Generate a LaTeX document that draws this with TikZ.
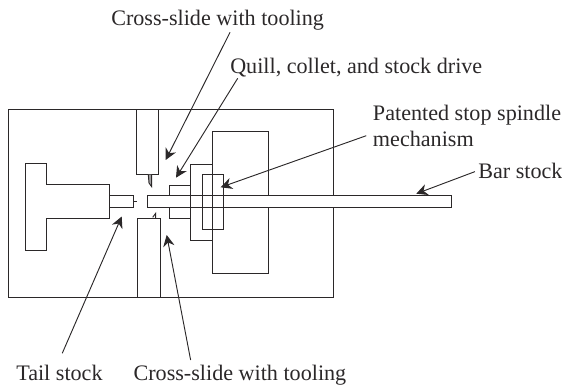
\documentclass[tikz,border=0pt]{standalone}
\usepackage{fontspec}
\setmainfont{Liberation Serif}
\usetikzlibrary{arrows.meta}
\definecolor{inkdark}{HTML}{2B2829}
\begin{document}
\begin{tikzpicture}[x=0.75pt,y=-0.75pt,
        part/.style={draw=inkdark,line width=0.7pt},
        bar/.style={part,fill=white},
        lbl/.style={anchor=base west,inner sep=0pt,text=inkdark,font=\fontsize{16.6}{20}\selectfont},
        callout/.style={draw=inkdark,line width=0.7pt,-{Stealth[length=8.5pt,width=8.5pt]}}]
        \useasboundingbox (0,0) rectangle (562,385);
        % Machine frame and large housing
        \draw[part] (8,109) rectangle (333,297);
        \draw[part] (212.7,131.3) rectangle (268,273.3);
        % Upper cross-slide
        \draw[part] (136,109) rectangle (158.3,174.7);
        \draw[part,fill=inkdark!45] (148.3,174.7) -- (149,183) -- (151.7,186.7) -- (151.7,174.7);
        % Lower cross-slide
        \draw[part] (137,218.3) rectangle (160.3,297);
        \draw[part] (152.7,217.3) -- (155.7,213.3) -- (155.7,218.3);
        % Tail stock
        \draw[part] (25.3,163) -- (46.7,163) -- (46.7,184.7) -- (109.7,184.7) -- (109.7,218.3)
            -- (46.7,218.3) -- (46.7,250) -- (25.3,250) -- cycle;
        \draw[part] (109.7,195.7) rectangle (133,207.3);
        \draw[part] (133,201.7) -- (137,201.7);
        % Quill, bar and stop spindle
        \draw[part] (169.3,185) rectangle (190.3,218.3);
        \draw[bar] (147.3,195.7) rectangle (451.3,207.3);
        \draw[part] (190.3,164) rectangle (212.7,240);
        \draw[part] (202.3,174.7) rectangle (223.3,229.3);
        % Labels
        \node[lbl] (slidetop) at (111,26) {Cross-slide with tooling};
        \node[lbl] (quill) at (230,74) {Quill, collet, and stock drive};
        \node[lbl] (stop) at (372.7,121) {Patented stop spindle};
        \node[lbl] (stopb) at (372.7,146.7) {mechanism};
        \node[lbl] (barstock) at (478,178.3) {Bar stock};
        \node[lbl] (tail) at (16,381) {Tail stock};
        \node[lbl] (slidebot) at (133.3,381) {Cross-slide with tooling};
        % Arrow tips
        \coordinate (tipslidetop) at (165.7,160);
        \coordinate (tipquill) at (176,177.7);
        \coordinate (tipstop) at (220.7,187.3);
        \coordinate (tipbar) at (416.3,193.7);
        \coordinate (tiptail) at (121.7,216.5);
        \coordinate (tipslidebot) at (166.7,235);
        % Arrows
        \draw[callout] ([xshift=89.3pt,yshift=-4.7pt]slidetop.base west) -- (tipslidetop);
        \draw[callout] ([xshift=5.8pt,yshift=-3.2pt]quill.base west) -- (tipquill);
        \draw[callout] ([xshift=-4.8pt,yshift=8.25pt]stopb.base west) -- (tipstop);
        \draw[callout] ([xshift=-2.3pt,yshift=5pt]barstock.base west) -- (tipbar);
        \draw[callout] ([xshift=34.7pt,yshift=20.8pt]tail.base west) -- (tiptail);
        \draw[callout] ([xshift=43pt,yshift=15.75pt]slidebot.base west) -- (tipslidebot);
    \end{tikzpicture}
\end{document}
